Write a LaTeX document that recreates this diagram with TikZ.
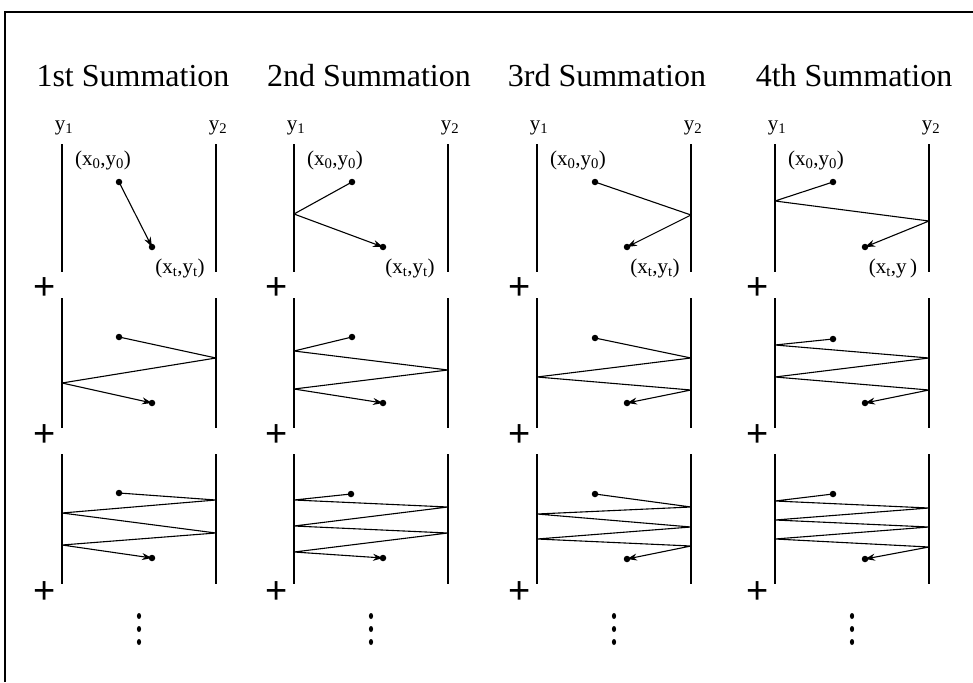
\documentclass[tikz,border=0pt]{standalone}
\usepackage{fontspec}
\setmainfont{Liberation Serif}
\newfontfamily\plusfont{Liberation Sans}
\usetikzlibrary{arrows.meta,shapes.geometric}
\begin{document}
\begin{tikzpicture}[x=1pt,y=-1pt,
  wall/.style={line width=1.3pt},
  ray/.style={line width=1.1pt, line join=round},
  arr/.style={ray,-{Stealth[length=10pt,width=7pt]}},
  pt/.style={circle,fill,inner sep=0pt,minimum size=6.5pt},
  vdot/.style={ellipse,fill,inner sep=0pt,minimum width=4.2pt,minimum height=6pt},
  lab/.style={font=\fontsize{21}{22}\selectfont, inner sep=0pt},
  head/.style={font=\fontsize{32}{34}\selectfont, inner sep=0pt},
  plus/.style={font=\plusfont\fontsize{38}{38}\selectfont, inner sep=0pt}]
\useasboundingbox (0,0) rectangle (973,682);
\draw[line width=1.2pt] (5,682) -- (5,12) -- (973,12);

% headers
\node[head] (h1) at (133,76) {1st Summation};
\node[head] (h2) at (369,76) {2nd Summation};
\node[head] (h3) at (607,76) {3rd Summation};
\node[head] (h4) at (854,76) {4th Summation};

% walls, labels, pluses, dots
\foreach \L [count=\i] in {62,294,537,775} {
  \foreach \t/\b in {144/272, 298/428, 454/584} {
    \draw[wall] (\L,\t) -- (\L,\b);
    \draw[wall] (\L+154,\t) -- (\L+154,\b);
  }
  \node[lab] (ya\i) at (\L+2,128) {y\textsubscript{1}};
  \node[lab] (yb\i) at (\L+156,128) {y\textsubscript{2}};
  \node[lab] (p0\i) at (\L+41,160) {(x\textsubscript{0},y\textsubscript{0})};
  \foreach \py [count=\j] in {289,436,593} {
    \node[plus] (plus\i\j) at (\L-17,\py) {+};
  }
  \foreach \dy [count=\j] in {616,629,642} {
    \node[vdot] (vd\i\j) at (\L+77,\dy) {};
  }
}
\node[lab] (pt1) at (180,268) {(x\textsubscript{t},y\textsubscript{t})};
\node[lab] (pt2) at (410,268) {(x\textsubscript{t},y\textsubscript{t})};
\node[lab] (pt3) at (655,268) {(x\textsubscript{t},y\textsubscript{t})};
\node[lab] (pt4) at (893,268) {(x\textsubscript{t},y\,)};

% ---------- row 1 ----------
\node[pt] (s11) at (119,182) {}; \node[pt] (e11) at (152,247) {};
\draw[arr] (s11.center) -- (e11.center);

\node[pt] (s21) at (352,182) {}; \node[pt] (e21) at (383,247) {};
\draw[arr] (s21.center) -- (294,214) -- (e21.center);

\node[pt] (s31) at (595,182) {}; \node[pt] (e31) at (627,247) {};
\draw[arr] (s31.center) -- (691,215) -- (e31.center);

\node[pt] (s41) at (833,182) {}; \node[pt] (e41) at (865,247) {};
\draw[arr] (s41.center) -- (775,201) -- (929,221) -- (e41.center);

% ---------- row 2 ----------
\node[pt] (s12) at (119,337) {}; \node[pt] (e12) at (152,403) {};
\draw[arr] (s12.center) -- (216,358) -- (62,383) -- (e12.center);

\node[pt] (s22) at (352,337) {}; \node[pt] (e22) at (383,403) {};
\draw[arr] (s22.center) -- (294,351) -- (448,370) -- (294,389) -- (e22.center);

\node[pt] (s32) at (595,338) {}; \node[pt] (e32) at (627,403) {};
\draw[arr] (s32.center) -- (691,358) -- (537,377) -- (691,390) -- (e32.center);

\node[pt] (s42) at (833,339) {}; \node[pt] (e42) at (865,403) {};
\draw[arr] (s42.center) -- (775,345) -- (929,358) -- (775,377) -- (929,390) -- (e42.center);

% ---------- row 3 ----------
\node[pt] (s13) at (119,493) {}; \node[pt] (e13) at (152,558) {};
\draw[arr] (s13.center) -- (216,500) -- (62,513) -- (216,533) -- (62,545) -- (e13.center);

\node[pt] (s23) at (351,494) {}; \node[pt] (e23) at (383,558) {};
\draw[arr] (s23.center) -- (294,500) -- (448,507) -- (294,526) -- (448,533) -- (294,552) -- (e23.center);

\node[pt] (s33) at (595,494) {}; \node[pt] (e33) at (627,559) {};
\draw[arr] (s33.center) -- (691,507) -- (537,514) -- (691,527) -- (537,539) -- (691,546) -- (e33.center);

\node[pt] (s43) at (833,494) {}; \node[pt] (e43) at (865,559) {};
\draw[arr] (s43.center) -- (775,501) -- (929,508) -- (775,520) -- (929,527) -- (775,539) -- (929,547) -- (e43.center);
\end{tikzpicture}
\end{document}
